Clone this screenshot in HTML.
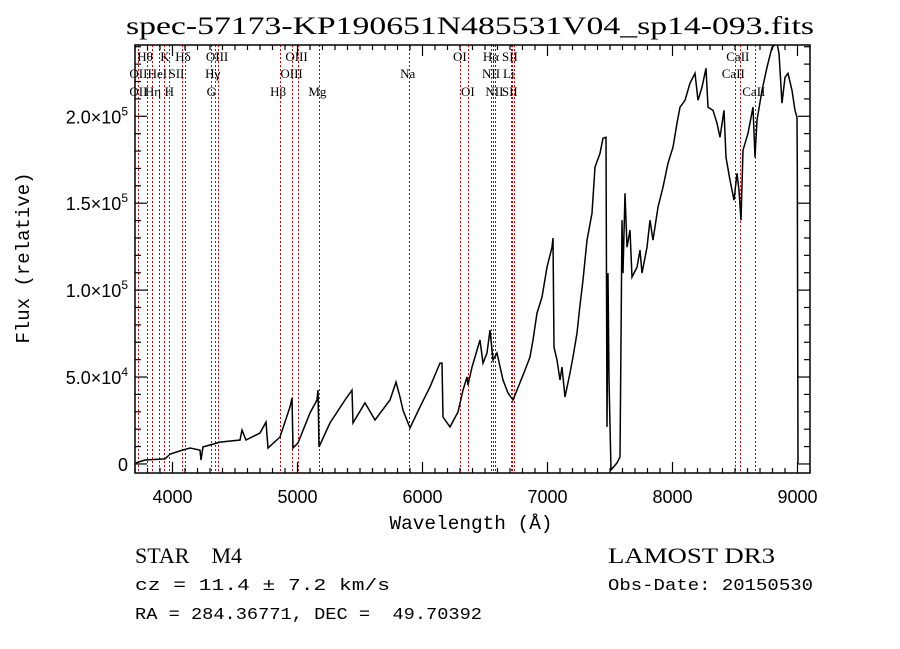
<!DOCTYPE html>
<html><head><meta charset="utf-8"><style>
html,body{margin:0;padding:0;background:#fff;}
svg{display:block;}
</style></head><body>
<svg id="chart" width="900" height="649" viewBox="0 0 900 649" xmlns="http://www.w3.org/2000/svg">
<rect width="900" height="649" fill="#fff"/>
<text x="470" y="34" text-anchor="middle" font-family="Liberation Serif, serif" font-size="25" textLength="688" lengthAdjust="spacingAndGlyphs">spec-57173-KP190651N485531V04_sp14-093.fits</text>
<defs><clipPath id="plotclip"><rect x="135" y="45" width="675" height="428"/></clipPath></defs>
<g id="lines"></g>
<g id="labels"></g>
<g clip-path="url(#plotclip)"><path id="spec" fill="none" stroke="#000" stroke-width="1.5"/></g>
<rect x="135" y="45" width="675" height="428" fill="none" stroke="#000" stroke-width="1.5"/>
<g id="ticks"></g>
<g id="ticklabels" font-family="Liberation Sans, sans-serif" font-size="18"></g>
<text x="471" y="529" text-anchor="middle" font-family="Liberation Mono, monospace" font-size="19" textLength="163" lengthAdjust="spacingAndGlyphs">Wavelength (Å)</text>
<text transform="translate(29,258) rotate(-90)" text-anchor="middle" font-family="Liberation Mono, monospace" font-size="19">Flux (relative)</text>
<text x="135" y="563" font-family="Liberation Serif, serif" font-size="22" xml:space="preserve">STAR    M4</text>
<text x="608" y="563" font-family="Liberation Serif, serif" font-size="22" textLength="167" lengthAdjust="spacingAndGlyphs">LAMOST DR3</text>
<text x="135" y="590" font-family="Liberation Mono, monospace" font-size="17" textLength="255" lengthAdjust="spacingAndGlyphs">cz = 11.4 ± 7.2 km/s</text>
<text x="608" y="590" font-family="Liberation Mono, monospace" font-size="17" textLength="205" lengthAdjust="spacingAndGlyphs">Obs-Date: 20150530</text>
<text x="135" y="619" font-family="Liberation Mono, monospace" font-size="17" xml:space="preserve" textLength="347" lengthAdjust="spacingAndGlyphs">RA = 284.36771, DEC =  49.70392</text>
</svg>
<script>
const wavelengths=[3708,3780,3940,3980,4060,4140,4220,4228,4244,4300,4380,4540,4556,4588,4700,4748,4764,4860,4940,4956,4964,5004,5100,5156,5164,5172,5260,5380,5436,5444,5540,5620,5740,5788,5820,5844,5900,5980,6060,6140,6156,6164,6220,6284,6324,6356,6364,6396,6420,6460,6484,6516,6540,6564,6596,6644,6684,6724,6756,6820,6860,6884,6916,6956,6996,7036,7044,7052,7076,7100,7116,7140,7180,7204,7236,7260,7284,7316,7356,7380,7420,7444,7468,7476,7484,7492,7508,7556,7580,7588,7596,7604,7620,7636,7660,7676,7716,7740,7756,7796,7820,7844,7884,7924,7964,8004,8036,8060,8100,8140,8180,8204,8236,8268,8284,8324,8356,8380,8412,8428,8460,8492,8516,8532,8548,8564,8604,8644,8660,8676,8716,8756,8796,8836,8852,8876,8900,8924,8956,8980,8996,8998,9004];
const fluxK=[0.6,2.3,2.9,5.7,7.5,9.2,8.0,2.3,9.8,10.9,12.6,13.8,19.5,13.8,17.8,24.1,9.2,15.5,32.8,37.9,9.2,12.1,29.3,36.8,42.5,9.8,23.6,36.8,42.5,23.6,35.1,25.3,36.8,47.1,38.5,31.0,20.7,32.8,44.3,58.0,58.0,27.0,21.3,29.9,42.5,50.0,45.4,55.7,61.5,71.3,58.0,63.8,77.0,59.8,63.8,48.3,40.8,36.8,42.5,54.0,61.5,71.3,86.8,96.0,113.2,124.7,129.9,67.2,59.8,48.3,55.7,38.5,52.3,61.5,75.3,91.4,105.7,128.7,144.3,170.7,178.7,187.4,187.9,21.3,109.8,48.3,-3.4,0.6,4.0,71.3,140.2,109.8,155.7,124.7,134.5,107.5,113.2,123.0,109.8,124.7,140.2,128.7,147.7,159.2,173.0,182.2,196.0,205.2,209.2,219.0,224.7,209.2,216.7,227.6,205.2,203.4,196.0,187.9,203.4,176.4,163.2,151.7,167.2,157.5,140.2,180.5,190.2,205.2,176.4,197.7,214.9,228.2,239.7,242.0,236.2,207.5,222.4,224.7,214.9,203.4,199.4,170.7,0.6];
const lineWaves=[3727,3798,3835,3889,3934,3969,4072,4102,4305,4341,4363,4861,4959,5007,5175,5893,6300,6364,6548,6563,6583,6708,6716,6731,8498,8542,8662];
const lineRed=[1,1,1,1,1,1,1,0,1,1,1,1,1,1,1,0,1,1,0,1,0,1,1,1,1,1,1];
const labelTexts=["Hθ","K","Hδ","OIII","OIII","OI","Hα","SII","CaII","OII","HeI","SII","Hγ","OIII","Na","NII","Li","CaII","OII","Hη","H","G","Hβ","Mg","OI","NII","SII","CaII"];
const labelWaves=[3798,3934,4102,4363,5007,6300,6563,6716,8542,3727,3889,4072,4341,4959,5893,6548,6708,8498,3727,3835,3969,4305,4861,5175,6364,6583,6731,8662];
const labelRows=[0,0,0,0,0,0,0,0,0,1,1,1,1,1,1,1,1,1,2,2,2,2,2,2,2,2,2,2];
const labelDx=[-10,-4,-10,-12,-13,-7,-10,-10,-14,-9,-11,-13,-10,-12,-9,-9,-8,-13,-9,-7,-4,-4,-10,-11,-7,-10,-12,-13];
const xTicks=[4000,5000,6000,7000,8000,9000];
const yTicks=[0,50,100,150,200];
const yTickLabels=[["0",""],["5.0×10","4"],["1.0×10","5"],["1.5×10","5"],["2.0×10","5"]];
const xDomain=[3700,9100], yDomain=[-5.2,241];
const X0=135,X1=810,Y0=473,Y1=45;
const NS='http://www.w3.org/2000/svg';
function sx(w){return X0+(w-xDomain[0])/(xDomain[1]-xDomain[0])*(X1-X0);}
function sy(f){return Y0-(f-yDomain[0])/(yDomain[1]-yDomain[0])*(Y0-Y1);}
function mk(tag,parent){const e=document.createElementNS(NS,tag);parent.appendChild(e);return e;}
let d='';
for(let i=0;i<wavelengths.length;i++){d+=(i?'L':'M')+sx(wavelengths[i]).toFixed(1)+' '+sy(fluxK[i]).toFixed(1);}
document.getElementById('spec').setAttribute('d',d);
const gl=document.getElementById('lines');
lineWaves.forEach((w,i)=>{const l=mk('line',gl);


const x=Math.round(sx(w))+0.5;l.setAttribute('x1',x);l.setAttribute('x2',x);l.setAttribute('y1',Y1);l.setAttribute('y2',Y0);
l.setAttribute('stroke',lineRed[i]?'#c00':'#333');l.setAttribute('stroke-width','1');l.setAttribute('stroke-dasharray','2,2');});
const glb=document.getElementById('labels');
const rowY=[61,78,96];
labelTexts.forEach((t,i)=>{const e=mk('text',glb);


e.setAttribute('x',sx(labelWaves[i])+labelDx[i]);e.setAttribute('y',rowY[labelRows[i]]);
e.setAttribute('font-family','Liberation Serif, serif');e.setAttribute('font-size','13');e.textContent=t;});
const gt=document.getElementById('ticks');
function tick(x1,y1,x2,y2){const l=mk('line',gt);


l.setAttribute('x1',x1);l.setAttribute('y1',y1);l.setAttribute('x2',x2);l.setAttribute('y2',y2);l.setAttribute('stroke','#000');l.setAttribute('stroke-width','1.2');}
for(let w=3700;w<=9100;w+=100){const x=sx(w);const L=(w%1000===0)?11:5;tick(x,Y0,x,Y0-L);tick(x,Y1,x,Y1+L);}
for(let f=0;f<=240;f+=10){const y=sy(f);const L=(f%50===0)?12:6;tick(X0,y,X0+L,y);tick(X1,y,X1-L,y);}
const gtl=document.getElementById('ticklabels');
xTicks.forEach(w=>{const e=mk('text',gtl);


e.setAttribute('x',sx(w));e.setAttribute('y',503);e.setAttribute('text-anchor','middle');e.textContent=String(w);});
yTicks.forEach((f,i)=>{const e=mk('text',gtl);


e.setAttribute('x',128);e.setAttribute('y',sy(f)+7);e.setAttribute('text-anchor','end');
const a=mk('tspan',e);a.textContent=yTickLabels[i][0];
if(yTickLabels[i][1]){const b=mk('tspan',e);b.setAttribute('dy','-8');b.setAttribute('font-size','12');b.textContent=yTickLabels[i][1];}});
</script>
</body></html>
